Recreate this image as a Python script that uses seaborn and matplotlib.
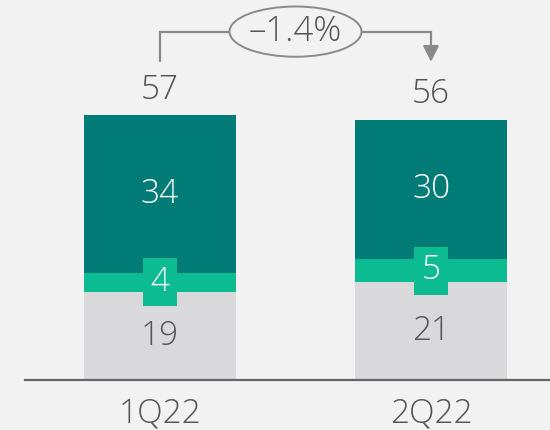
import matplotlib
matplotlib.use("Agg")
import matplotlib.pyplot as plt
from matplotlib.patches import Ellipse
import seaborn as sns
import pandas as pd

quarters = ["1Q22", "2Q22"]
base_vals = [19, 21]
mid_vals = [4, 5]
top_vals = [34, 30]
total_labels = ["57", "56"]
change_label = "\u20131.4%"

BG = "#f2f2f2"
C_BASE = "#d9d9db"
C_MID = "#0dbb93"
C_TOP = "#007b76"
TXT = "#555555"
LINE = "#8a8a8a"

sns.set_theme(style="white")
plt.rcParams["font.family"] = ["Open Sans", "DejaVu Sans"]
plt.rcParams["font.weight"] = "light"

df = pd.DataFrame({"quarter": quarters, "base": base_vals, "mid": mid_vals, "top": top_vals})
df["cum_mid"] = df["base"] + df["mid"]
df["total"] = df["cum_mid"] + df["top"]

fig = plt.figure(figsize=(5.5, 4.3), dpi=100, facecolor=BG)
ax = fig.add_axes([25 / 550, 50 / 430, 525 / 550, 380 / 430])
ax.set_facecolor(BG)

w = 0.56
for col, c in [("total", C_TOP), ("cum_mid", C_MID), ("base", C_BASE)]:
    sns.barplot(data=df, x="quarter", y=col, color=c, width=w, saturation=1,
                linewidth=0, edgecolor=c, ax=ax)

ax.set_xlim(-0.498, 1.439)
ax.set_ylim(0, 81.7)

fs = 24
for i, row in df.iterrows():
    ax.text(i, row["base"] / 2, str(row["base"]), ha="center", va="center",
            fontsize=fs, color=TXT)
    ax.text(i, row["base"] + row["mid"] / 2, str(row["mid"]), ha="center", va="center",
            fontsize=fs, color="white",
            bbox=dict(boxstyle="square,pad=0.22", fc=C_MID, ec="none"))
    ax.text(i, row["cum_mid"] + row["top"] / 2, str(row["top"]), ha="center", va="center",
            fontsize=fs, color="white")
    ax.text(i, row["total"] + 5.4, total_labels[i], ha="center", va="center",
            fontsize=fs, color=TXT)

# bracket with change bubble
peak = df["total"].max()
y_low = peak + 11.6
y_high = peak + 17.9
ax.plot([0, 0, 1, 1], [y_low, y_high, y_high, y_low + 3], color=LINE, lw=1.6,
        solid_joinstyle="miter", clip_on=False, zorder=3)
ax.annotate("", xy=(1, y_low - 0.2), xytext=(1, y_low + 3.2),
            arrowprops=dict(arrowstyle="-|>,head_length=0.8,head_width=0.4",
                            color=LINE, lw=1.6, shrinkA=0, shrinkB=0),
            annotation_clip=False, zorder=3)
ell = Ellipse((0.5, y_high), width=0.487, height=10.8, fc=BG, ec=LINE, lw=1.4,
              zorder=4, clip_on=False)
ax.add_patch(ell)
ax.text(0.5, y_high, change_label, ha="center", va="center", fontsize=25,
        color=TXT, zorder=5)

sns.despine(ax=ax, left=True, top=True, right=True)
ax.spines["bottom"].set_color("#666666")
ax.spines["bottom"].set_linewidth(1.6)
ax.set_yticks([])
ax.set_xlabel("")
ax.set_ylabel("")
ax.tick_params(axis="x", length=0, pad=12, labelsize=fs, labelcolor=TXT)

fig.savefig("out.png", dpi=100, facecolor=BG)
